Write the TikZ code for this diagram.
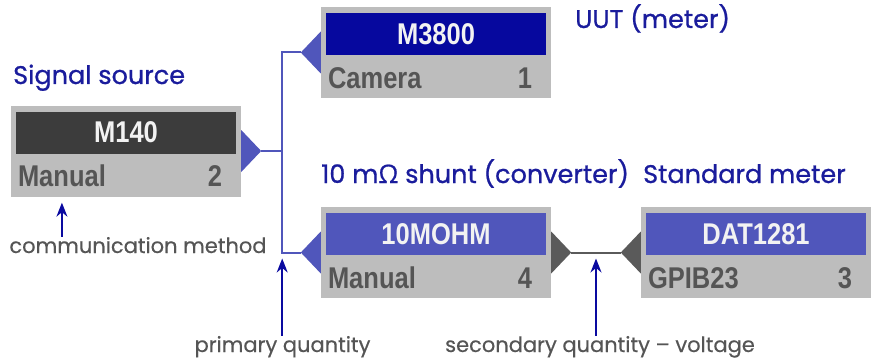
\documentclass[tikz,border=0pt]{standalone}
\usepackage{fontspec}
\setmainfont{Poppins}
\newfontfamily\titlefont[FakeBold=0.8]{Poppins}
\newfontfamily\notefont[FakeBold=0.4]{Poppins}
\newfontfamily\barfont[FakeStretch=0.85]{Liberation Sans}
\newfontfamily\symfont[FakeBold=0.8]{Open Sans}
\usetikzlibrary{arrows.meta,positioning,calc}
\tikzset{>=Stealth}
\definecolor{boxgray}{HTML}{BDBDBD}
\definecolor{bardark}{HTML}{3C3C3C}
\definecolor{barnavy}{HTML}{06089E}
\definecolor{barblue}{HTML}{5056BB}
\definecolor{portgray}{HTML}{5A5A5A}
\definecolor{subgray}{HTML}{555555}
\definecolor{labelblue}{HTML}{1A1C9C}
\definecolor{arrownavy}{HTML}{0A0AA0}
\definecolor{bartext}{HTML}{F2F2F2}

\begin{document}
\begin{tikzpicture}[
    x=1pt, y=-1pt,
    unit/.style={fill=boxgray, minimum width=230pt, minimum height=91pt, inner sep=0pt},
    bar/.style={minimum width=220pt, minimum height=42pt, inner sep=0pt, text=bartext,
      font=\barfont\bfseries\fontsize{30}{30}\selectfont},
    sub/.style={inner sep=0pt, text=subgray, font=\barfont\bfseries\fontsize{30}{30}\selectfont},
    title/.style={inner sep=0pt, anchor=base west, text=labelblue, font=\titlefont\fontsize{25.5}{26}\selectfont},
    note/.style={inner sep=0pt, anchor=base, text=subgray, font=\notefont\fontsize{21}{22}\selectfont},
    link/.style={draw=barblue, line width=2pt},
    pointer/.style={->, >={Stealth[length=14pt, width=11pt]}, draw=arrownavy, line width=1.5pt}
  ]
    \useasboundingbox (0,0) rectangle (873,361);
    \node[unit] (m140)  at (126,151)   {};
    \node[unit] (m3800) at (436,52.5)  {};
    \node[unit] (shunt) at (436,252.5) {};
    \node[unit] (dat)   at (756,252.5) {};
    \node[bar, fill=bardark, below=6pt of m140.north]  (m140-bar)  {M140};
    \node[bar, fill=barnavy, below=6pt of m3800.north] (m3800-bar) {M3800};
    \node[bar, fill=barblue, below=6pt of shunt.north] (shunt-bar) {10MOHM};
    \node[bar, fill=barblue, below=6pt of dat.north]   (dat-bar)   {DAT1281};
    \node[sub, anchor=base west] (m140-mode)  at ($(m140.south west)+(7,-10)$)   {Manual};
    \node[sub, anchor=base east] (m140-ch)    at ($(m140.south east)+(-19,-10)$) {2};
    \node[sub, anchor=base west] (m3800-mode) at ($(m3800.south west)+(7,-10)$)  {Camera};
    \node[sub, anchor=base east] (m3800-ch)   at ($(m3800.south east)+(-19,-10)$) {1};
    \node[sub, anchor=base west] (shunt-mode) at ($(shunt.south west)+(7,-10)$)  {Manual};
    \node[sub, anchor=base east] (shunt-ch)   at ($(shunt.south east)+(-19,-10)$) {4};
    \node[sub, anchor=base west] (dat-mode)   at ($(dat.south west)+(7,-10)$)    {GPIB23};
    \node[sub, anchor=base east] (dat-ch)     at ($(dat.south east)+(-19,-10)$)  {3};
    \fill[barblue] (m140.east) ++(0,-21) -- ++(20,21) coordinate (m140-out) -- ++(-20,21) -- cycle;
    \fill[barblue] (m3800.west) ++(0,-21) -- ++(-20,21) coordinate (m3800-in) -- ++(20,21) -- cycle;
    \fill[barblue] (shunt.west) ++(0,-21) -- ++(-20,21) coordinate (shunt-in) -- ++(20,21) -- cycle;
    \fill[portgray] (shunt.east) ++(0,-21) -- ++(20,21) coordinate (shunt-out) -- ++(-20,21) -- cycle;
    \fill[portgray] (dat.west) ++(0,-21) -- ++(-20,21) coordinate (dat-in) -- ++(20,21) -- cycle;
    \draw[link] (m140-out) -- ++(21,0) coordinate (split);
    \draw[link] (m3800-in) -| (split) |- (shunt-in);
    \draw[draw=portgray, line width=2pt] (shunt-out) -- coordinate (tap) (dat-in);
    \node[title] (src-lbl)   at (13,84)  {Signal source};
    \node[title] (uut-lbl)   at (575,28) {UUT (meter)};
    \node[title] (shunt-lbl) at (321,183) {10 m{\symfont Ω} shunt (converter)};
    \node[title] (std-lbl)   at (643,183) {Standard meter};
    \node[note] (comm-lbl) at (138,253) {communication method};
    \node[note] (prim-lbl) at (282.5,352) {primary quantity};
    \node[note] (sec-lbl)  at (600,352) {secondary quantity – voltage};
    \draw[pointer] (comm-lbl.north -| m140-mode) -- ([yshift=-6pt]m140.south -| m140-mode);
    \draw[pointer] (prim-lbl.north -| split) -- ([yshift=-6pt]shunt-in -| split);
    \draw[pointer] (sec-lbl.north -| tap) -- ([yshift=-6pt]tap);
  \end{tikzpicture}
\end{document}
